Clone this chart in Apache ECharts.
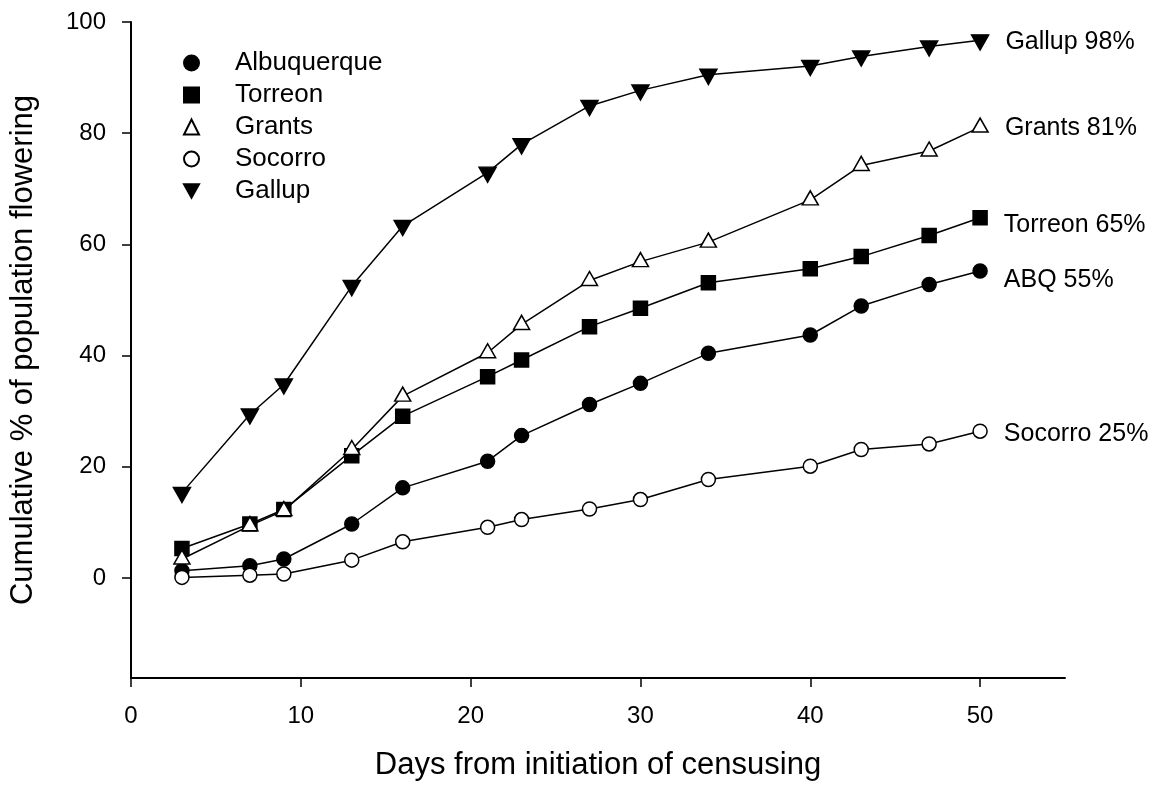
<!DOCTYPE html>
<html>
<head>
<meta charset="utf-8">
<script src="https://cdn.jsdelivr.net/npm/echarts@6/dist/echarts.min.js"></script>
<style>
html,body{margin:0;padding:0;background:#fff;}
#chart{width:1166px;height:790px;}
</style>
</head>
<body>
<div id="chart"></div>
<script>
// ---- data ----
const days = [3, 7, 9, 13, 16, 21, 23, 27, 30, 34, 40, 43, 47, 50];
const albuquerque = [1.3, 2.2, 3.4, 9.7, 16.2, 21.0, 25.6, 31.2, 35.0, 40.4, 43.7, 48.9, 52.8, 55.2];
const torreon = [5.3, 9.7, 12.3, 22.0, 29.1, 36.2, 39.2, 45.2, 48.5, 53.1, 55.6, 57.8, 61.6, 64.8];
const grants = [3.4, 9.4, 12.1, 23.1, 32.7, 40.5, 45.6, 53.5, 56.9, 60.4, 68.0, 74.2, 76.8, 81.1];
const socorro = [0.1, 0.5, 0.7, 3.2, 6.5, 9.1, 10.5, 12.4, 14.1, 17.7, 20.1, 23.1, 24.1, 26.4];
const gallup = [15.3, 29.4, 34.8, 52.5, 63.3, 72.9, 78.0, 84.9, 87.7, 90.5, 92.1, 93.8, 95.6, 96.7];
const seriesNames = ['Albuquerque', 'Torreon', 'Grants', 'Socorro', 'Gallup'];
const endLabels = ['ABQ 55%', 'Torreon 65%', 'Grants 81%', 'Socorro 25%', 'Gallup 98%'];
const xTicks = [0, 10, 20, 30, 40, 50];
const yTicks = [0, 20, 40, 60, 80, 100];

// ---- styles ----
const FONT = "'Liberation Sans', Arial, sans-serif";
const DOWN_TRI = 'path://M0,0 L20,0 L10,18 Z';
const styles = [
  {symbol: 'circle', size: 14, fill: '#000', offset: [0, 0], labelDy: 9},
  {symbol: 'rect', size: 14, fill: '#000', offset: [0, 0], labelDy: 7},
  {symbol: 'triangle', size: [16, 14], fill: '#fff', offset: [0, -2], labelDy: 3},
  {symbol: 'circle', size: 14, fill: '#fff', offset: [0, 0], labelDy: 3},
  {symbol: DOWN_TRI, size: [17, 15], fill: '#000', offset: [0, 2], labelDy: 0}
];
const allValues = [albuquerque, torreon, grants, socorro, gallup];

const series = seriesNames.map((name, si) => {
  const st = styles[si];
  const vals = allValues[si];
  const data = days.map((d, i) => {
    const item = {value: [d, vals[i]]};
    if (i === days.length - 1) {
      item.label = {
        show: true,
        position: 'right',
        distance: 16,
        offset: [0, st.labelDy],
        formatter: endLabels[si],
        color: '#000',
        fontSize: 25,
        fontFamily: FONT
      };
    }
    return item;
  });
  return {
    name: name,
    type: 'line',
    data: data,
    symbol: st.symbol,
    symbolSize: st.size,
    symbolOffset: st.offset,
    showAllSymbol: true,
    itemStyle: {color: st.fill, borderColor: '#000', borderWidth: 1.5},
    lineStyle: {color: '#000', width: 1.5},
    emphasis: {disabled: true},
    z: 2 + si
  };
});

const chart = echarts.init(document.getElementById('chart'), null, {renderer: 'canvas'});
chart.setOption({
  animation: false,
  backgroundColor: '#fff',
  textStyle: {fontFamily: FONT},
  grid: {left: 130, right: 101, top: 22, bottom: 112, containLabel: false},
  legend: {
    orient: 'vertical',
    left: 178,
    top: 45,
    itemWidth: 15,
    itemHeight: 15,
    itemGap: 6,
    selectedMode: false,
    data: seriesNames.map((n, i) => ({name: n, icon: styles[i].symbol})),
    textStyle: {fontSize: 26, color: '#000', fontFamily: FONT, lineHeight: 26, padding: [0, 0, 0, 31]}
  },
  xAxis: {
    type: 'value',
    min: 0,
    max: 55,
    interval: 10,
    name: 'Days from initiation of censusing',
    nameLocation: 'middle',
    nameGap: 72,
    nameTextStyle: {fontSize: 31, color: '#000', fontFamily: FONT},
    axisLine: {show: true, onZero: false, lineStyle: {color: '#000', width: 2}},
    axisTick: {show: true, length: 9, customValues: xTicks, lineStyle: {color: '#000', width: 1.5}},
    axisLabel: {fontSize: 24, color: '#000', margin: 26, customValues: xTicks, fontFamily: FONT},
    splitLine: {show: false}
  },
  yAxis: {
    type: 'value',
    min: -18,
    max: 100,
    name: 'Cumulative % of population flowering',
    nameLocation: 'middle',
    nameGap: 92,
    nameTextStyle: {fontSize: 31, color: '#000', fontFamily: FONT},
    axisLine: {show: true, onZero: false, lineStyle: {color: '#000', width: 2}},
    axisTick: {show: true, length: 9, customValues: yTicks, lineStyle: {color: '#000', width: 1.5}},
    axisLabel: {fontSize: 24, color: '#000', margin: 25, customValues: yTicks, fontFamily: FONT},
    splitLine: {show: false}
  },
  series: series
});
</script>
</body>
</html>
